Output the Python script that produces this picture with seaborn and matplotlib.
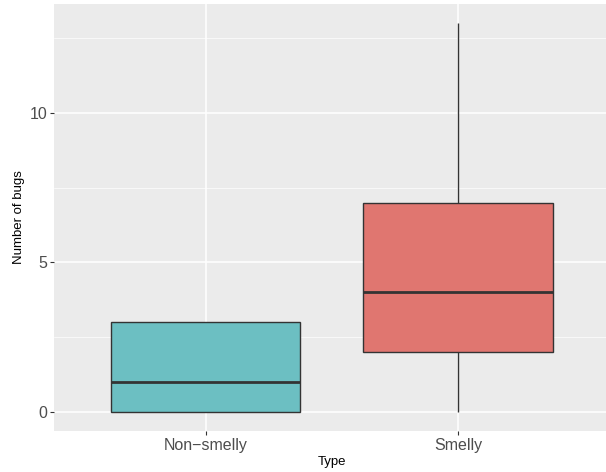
import numpy as np
import pandas as pd
import matplotlib
matplotlib.use("Agg")
import matplotlib.pyplot as plt
import seaborn as sns

non_smelly = [0, 0, 0, 1, 1, 2, 3, 3, 3]
smelly = [0, 2, 2, 3, 4, 5, 7, 7, 13]
types = ["Non\u2212smelly", "Smelly"]
colors = ["#6CBFC2", "#E07670"]

df = pd.DataFrame({
    "Type": [types[0]] * len(non_smelly) + [types[1]] * len(smelly),
    "bugs": non_smelly + smelly,
})

sns.set_theme(style="darkgrid")
plt.rcParams["font.family"] = ["Liberation Sans", "DejaVu Sans"]

fig = plt.figure(figsize=(6.06, 4.72), dpi=100)
ax = fig.add_axes([54 / 606, 1 - 431 / 472, (609.8 - 54) / 606, (431 - 4) / 472])
ax.set_facecolor("#EBEBEB")

sns.boxplot(data=df, x="Type", y="bugs", hue="Type", palette=colors, order=types,
            width=0.75, whis=1.5, fliersize=0, linewidth=1.0, linecolor="#333333",
            saturation=1,
            medianprops={"linewidth": 2.0, "color": "#333333"},
            capprops={"linewidth": 0}, legend=False, ax=ax)

ax.set_xlim(-0.6, 1.6)
ax.set_ylim(-0.65, 13.65)
ax.set_yticks([0, 5, 10])
ax.set_yticks([2.5, 7.5, 12.5], minor=True)
ax.grid(True, which="major", color="white", linewidth=1.1)
ax.grid(True, which="minor", axis="y", color="white", linewidth=0.5)
ax.set_axisbelow(True)
for s in ax.spines.values():
    s.set_visible(False)

ax.tick_params(axis="both", which="major", bottom=True, left=True, length=3, width=0.8,
               color="#333333", labelsize=11.5, labelcolor="#4D4D4D", pad=2)
ax.tick_params(axis="both", which="minor", length=0)
ax.set_xlabel("Type", fontsize=9.5, color="black", labelpad=2)
ax.set_ylabel("Number of bugs", fontsize=9.5, color="black", labelpad=3)

fig.savefig("out.png", dpi=100)
